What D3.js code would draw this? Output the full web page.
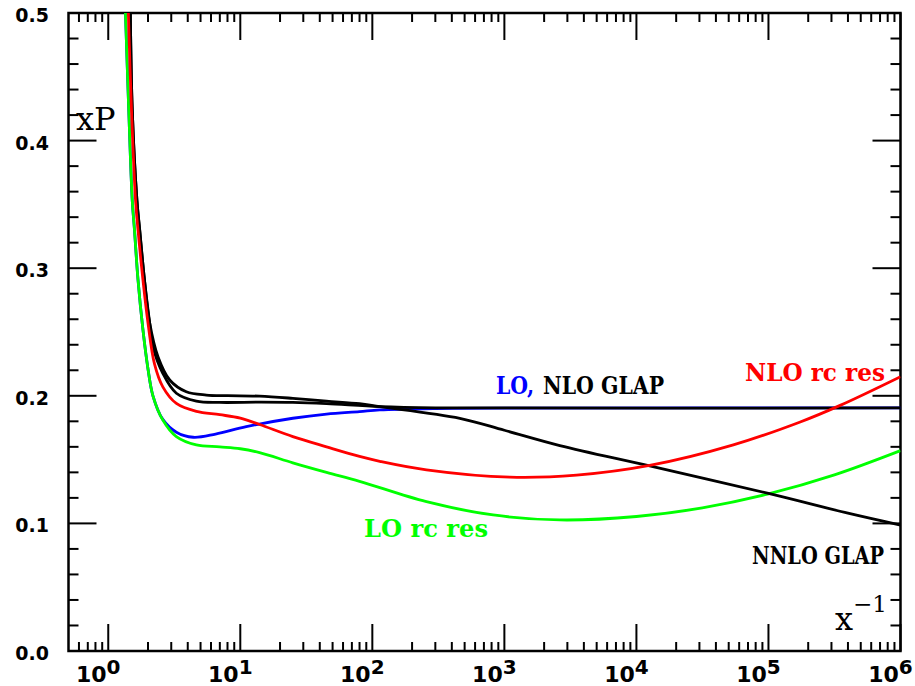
<!DOCTYPE html>
<html>
<head>
<meta charset="utf-8">
<script src="https://cdn.jsdelivr.net/npm/d3@7"></script>
<style>
  html, body { margin: 0; padding: 0; background: #fff; }
  svg { display: block; }
</style>
</head>
<body>
<svg id="chart" width="915" height="686"></svg>
<script>
// ---------- data ----------
const xMajorTicks = [1, 10, 100, 1e3, 1e4, 1e5, 1e6];
const xMajorExponents = ["0", "1", "2", "3", "4", "5", "6"];
const yMajorTicks = [0, 0.1, 0.2, 0.3, 0.4, 0.5];
const yTickLabels = ["0.0", "0.1", "0.2", "0.3", "0.4", "0.5"];

// LO rc res (green)
const loRcRes = [
  [1.35, 0.500], [1.43, 0.424], [1.52, 0.353], [1.58, 0.330], [1.68, 0.291],
  [1.83, 0.252], [2.0, 0.221], [2.18, 0.200], [2.59, 0.181], [3.28, 0.168],
  [4.65, 0.1615], [7.0, 0.160], [10, 0.1585], [14, 0.1555], [25, 0.1475],
  [45, 0.140], [80, 0.133], [257, 0.117], [822, 0.1066], [2630, 0.1027],
  [10000, 0.1054], [31600, 0.1122], [1e5, 0.1231], [316000, 0.138], [1e6, 0.157]
];
// LO GLAP (blue)
const loGlap = [
  [1.35, 0.500], [1.43, 0.424], [1.52, 0.353], [1.58, 0.330], [1.68, 0.291],
  [1.83, 0.252], [2.0, 0.221], [2.18, 0.200], [2.59, 0.1815], [3.28, 0.1715],
  [4.4, 0.1675], [6.5, 0.1700], [11.1, 0.1758], [25, 0.1824],
  [45, 0.1857], [80, 0.1876], [114, 0.1889], [300, 0.1900], [1000, 0.1904],
  [1e6, 0.1905]
];
// NLO GLAP (black)
const nloGlap = [
  [1.47, 0.500], [1.52, 0.424], [1.65, 0.353], [1.73, 0.330], [1.88, 0.291],
  [2.06, 0.257], [2.18, 0.2385], [2.59, 0.2176], [3.28, 0.2020], [4.65, 0.1958],
  [6.98, 0.1948], [14, 0.1950], [25, 0.1948], [45, 0.1938], [114, 0.1915],
  [300, 0.1906], [1e6, 0.1905]
];
// NNLO GLAP (black)
const nnloGlap = [
  [1.47, 0.500], [1.52, 0.424], [1.65, 0.353], [1.73, 0.330], [1.88, 0.291],
  [2.06, 0.257], [2.38, 0.2306], [2.92, 0.2124], [3.9, 0.2032], [5.53, 0.2006],
  [8.0, 0.2001], [14, 0.1997], [25, 0.198], [45, 0.1958], [80, 0.1938],
  [114, 0.1915], [460, 0.1824], [1000, 0.1730], [2630, 0.1610], [12600, 0.1450],
  [1e5, 0.1235], [400000, 0.1080], [1e6, 0.0987]
];
// NLO rc res (red)
const nloRcRes = [
  [1.42, 0.500], [1.50, 0.424], [1.61, 0.353], [1.68, 0.330], [1.83, 0.291],
  [2.0, 0.257], [2.24, 0.225], [2.59, 0.207], [3.28, 0.194], [4.65, 0.1878],
  [7.0, 0.1852], [10, 0.1825], [14, 0.1775], [25, 0.168], [45, 0.160],
  [80, 0.1525], [114, 0.1487], [257, 0.1420], [1100, 0.1362], [3520, 0.1378],
  [12600, 0.1454], [54200, 0.1615], [174000, 0.1795], [349000, 0.1925], [1e6, 0.215]
];

const seriesList = [
  { data: loGlap, color: "#0000ff" },
  { data: loRcRes, color: "#00ff00" },
  { data: nloGlap, color: "#000000" },
  { data: nnloGlap, color: "#000000" },
  { data: nloRcRes, color: "#ff0000" }
];

// ---------- layout ----------
const svg = d3.select("#chart");
const L = 68.5, R = 900.5, T = 13, B = 651;
const x = d3.scaleLog().domain([0.5, 1e6]).range([L, R]);
const y = d3.scaleLinear().domain([0, 0.5]).range([B, T]);

svg.append("defs").append("clipPath").attr("id", "clip")
  .append("rect").attr("x", L).attr("y", T).attr("width", R - L).attr("height", B - T);

// minor ticks
const xMinor = [0.6, 0.7, 0.8, 0.9];
for (let e = 0; e < 6; e++) for (let m = 2; m <= 9; m++) xMinor.push(m * Math.pow(10, e));
const yMinor = d3.range(0, 26).map(i => i * 0.02).filter((v, i) => i % 5 !== 0);

const tickG = svg.append("g").attr("stroke", "#000").attr("stroke-width", 2);
xMajorTicks.forEach(v => {
  tickG.append("line").attr("x1", x(v)).attr("x2", x(v)).attr("y1", B).attr("y2", B - 27);
  tickG.append("line").attr("x1", x(v)).attr("x2", x(v)).attr("y1", T).attr("y2", T + 27);
});
xMinor.forEach(v => {
  tickG.append("line").attr("x1", x(v)).attr("x2", x(v)).attr("y1", B).attr("y2", B - 9);
  tickG.append("line").attr("x1", x(v)).attr("x2", x(v)).attr("y1", T).attr("y2", T + 9);
});
yMajorTicks.forEach(v => {
  tickG.append("line").attr("x1", L).attr("x2", L + 28).attr("y1", y(v)).attr("y2", y(v));
  tickG.append("line").attr("x1", R).attr("x2", R - 28).attr("y1", y(v)).attr("y2", y(v));
});
yMinor.forEach(v => {
  tickG.append("line").attr("x1", L).attr("x2", L + 10).attr("y1", y(v)).attr("y2", y(v));
  tickG.append("line").attr("x1", R).attr("x2", R - 10).attr("y1", y(v)).attr("y2", y(v));
});

// frame
svg.append("rect").attr("x", L).attr("y", T).attr("width", R - L).attr("height", B - T)
  .attr("fill", "none").attr("stroke", "#000").attr("stroke-width", 2.5);

// y tick labels
svg.append("g").selectAll("text").data(yMajorTicks).join("text")
  .attr("x", 49).attr("y", d => y(d) + 9)
  .attr("text-anchor", "end")
  .attr("font-family", "DejaVu Sans").attr("font-weight", "bold").attr("font-size", 19)
  .text((d, i) => yTickLabels[i]);

// x tick labels 10^n
const xl = svg.append("g").selectAll("text").data(xMajorTicks).join("text")
  .attr("x", d => x(d) - 10).attr("y", 682)
  .attr("text-anchor", "middle")
  .attr("font-family", "DejaVu Sans").attr("font-weight", "bold").attr("font-size", 22);
xl.append("tspan").text("10");
xl.append("tspan").attr("dy", -8).attr("font-size", 20).text((d, i) => xMajorExponents[i]);

// axis titles
svg.append("text").attr("x", 76).attr("y", 130)
  .attr("font-family", "DejaVu Serif").attr("font-size", 32).text("xP");
const xt = svg.append("text").attr("x", 835).attr("y", 630)
  .attr("font-family", "DejaVu Serif").attr("font-size", 32);
xt.append("tspan").text("x");
xt.append("tspan").attr("dy", -18).attr("font-size", 23).text("\u22121");

// curves
const line = d3.line().x(d => x(d[0])).y(d => y(d[1])).curve(d3.curveCatmullRom.alpha(0.5));
const cg = svg.append("g").attr("clip-path", "url(#clip)");
seriesList.forEach(s => {
  cg.append("path").attr("d", line(s.data)).attr("fill", "none")
    .attr("stroke", s.color).attr("stroke-width", 2.8).attr("stroke-linejoin", "round");
});

// curve labels
const labels = [
  { text: "LO,", color: "#0000ff", px: 496, py: 394, len: 38 },
  { text: "NLO GLAP", color: "#000000", px: 543, py: 394, len: 121 },
  { text: "NLO rc res", color: "#ff0000", px: 745, py: 381, len: 140 },
  { text: "LO rc res", color: "#00ff00", px: 364, py: 537, len: 124 },
  { text: "NNLO GLAP", color: "#000000", px: 752, py: 564, len: 132 }
];
svg.append("g").selectAll("text").data(labels).join("text")
  .attr("x", d => d.px).attr("y", d => d.py)
  .attr("fill", d => d.color)
  .attr("font-family", "DejaVu Serif").attr("font-weight", "bold").attr("font-size", 24)
  .attr("textLength", d => d.len).attr("lengthAdjust", "spacingAndGlyphs")
  .text(d => d.text);
</script>
</body>
</html>
